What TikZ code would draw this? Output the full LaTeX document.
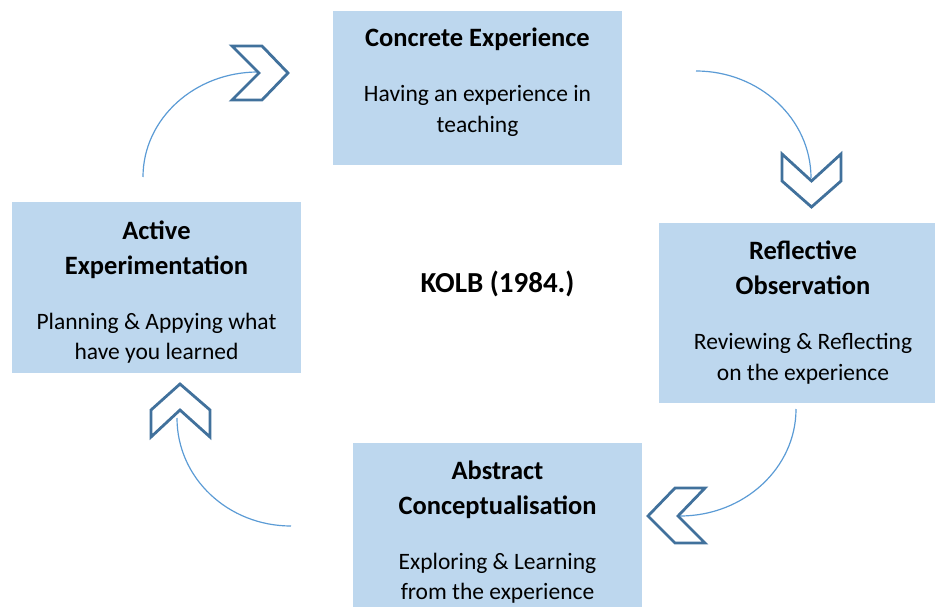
\documentclass[tikz,border=0pt]{standalone}
\usepackage{fontspec}
\setmainfont{Carlito}
\definecolor{boxblue}{HTML}{BDD7EE}
\definecolor{chevblue}{HTML}{41719C}
\definecolor{arcblue}{HTML}{5B9BD5}
\begin{document}
\begin{tikzpicture}[x=1pt,y=-1pt,
  box/.style={fill=boxblue,draw=none,inner sep=0pt,rectangle},
  ttl/.style={anchor=base,inner sep=0pt,font=\fontsize{26.5}{35}\selectfont\bfseries},
  bdy/.style={anchor=base,inner sep=0pt,font=\fontsize{23.5}{31}\selectfont},
  chev/.style={draw=chevblue,line width=2.8pt,fill=white,line join=miter},
  arcline/.style={draw=arcblue,line width=1.2pt}]
\useasboundingbox (0,0) rectangle (935,607);
% boxes
\node[box,minimum width=289pt,minimum height=154pt] (ce) at (477.5,88) {};
\node[box,minimum width=288pt,minimum height=180pt] (ro) at (803,313) {};
\node[box,minimum width=289pt,minimum height=171pt] (ae) at (156.5,287.5) {};
\node[box,minimum width=289pt,minimum height=180pt] (ac) at (497.5,533) {};
% texts
\node[ttl] (ce1) at (477.5,47) {Concrete Experience};
\node[bdy] (ce2) at (477.5,102) {Having an experience in};
\node[bdy] (ce3) at (477.5,133) {teaching};
\node[ttl] (ro1) at (803,259) {Reflective};
\node[ttl] (ro2) at (803,294) {Observation};
\node[bdy] (ro3) at (803,349) {Reviewing \& Reflecting};
\node[bdy] (ro4) at (803,380) {on the experience};
\node[ttl] (ae1) at (156.5,239) {Active};
\node[ttl] (ae2) at (156.5,274) {Experimentation};
\node[bdy] (ae3) at (156.5,329) {Planning \& Appying what};
\node[bdy] (ae4) at (156.5,359) {have you learned};
\node[ttl] (ac1) at (497.5,479) {Abstract};
\node[ttl] (ac2) at (497.5,514) {Conceptualisation};
\node[bdy] (ac3) at (497.5,569) {Exploring \& Learning};
\node[bdy] (ac4) at (497.5,599) {from the experience};
\node[ttl,font=\fontsize{29}{35}\selectfont\bfseries] (kolb) at (497.5,292) {KOLB (1984.)};
% arc end points
\coordinate (a1s) at (143,177);
\coordinate (a1e) at (258,72);
\coordinate (a2s) at (696,71);
\coordinate (a2e) at (811,178);
\coordinate (a3s) at (796,409);
\coordinate (a3e) at (680,516);
\coordinate (a4s) at (291,526);
\coordinate (a4e) at (177,418);
% arcs
\draw[arcline] (a1s) .. controls (143,119) and (194.5,72) .. (a1e);
\draw[arcline] (a2s) .. controls (759.5,71) and (811,119) .. (a2e);
\draw[arcline] (a3s) .. controls (796,468) and (744,516) .. (a3e);
\draw[arcline] (a4s) .. controls (228,526) and (177,478) .. (a4e);
% chevrons
\draw[chev] (232,46) -- (262,46) -- (288,73) -- (262,100) -- (232,100) -- (259,73) -- cycle;
\draw[chev] (782,154) -- (811.5,181) -- (841,154) -- (841,181) -- (811.5,207) -- (782,181) -- cycle;
\draw[chev] (705,488) -- (675,488) -- (648,516) -- (675,543) -- (705,543) -- (678,516) -- cycle;
\draw[chev] (180,384) -- (210,410) -- (210,437) -- (180,410) -- (151,437) -- (151,410) -- cycle;
\end{tikzpicture}
\end{document}
